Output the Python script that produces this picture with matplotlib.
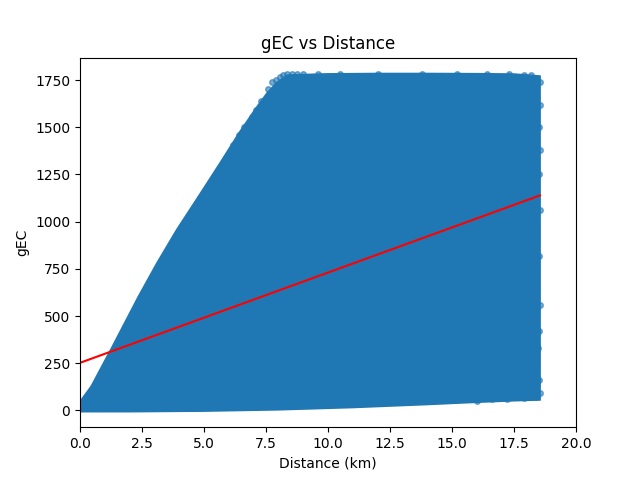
import matplotlib
matplotlib.use("Agg")
import matplotlib.pyplot as plt

# dense part of the cloud: upper and lower edge of the filled region
upper_x = [0.0, 0.5, 1.35, 2.4, 3.15, 3.95, 4.82, 5.68, 6.45, 7.1, 7.6, 8.0, 8.4, 10.0, 12.0, 14.0, 16.0, 17.5, 18.5]
upper_y = [35, 125, 335, 600, 778, 955, 1130, 1305, 1465, 1590, 1680, 1735, 1770, 1776, 1778, 1778, 1777, 1775, 1765]
lower_x = [18.5, 17.5, 16.0, 14.0, 11.0, 8.0, 5.0, 2.0, 0.0]
lower_y = [62, 58, 50, 38, 22, 10, 3, 0, 0]

# loose points along the edges of the cloud
edge_x = [5.38, 5.78, 6.0, 6.18, 6.4, 6.6, 6.92, 7.1, 7.3, 7.6, 7.73, 7.9, 8.06, 8.2,
          8.36, 8.55, 8.73, 9.0, 9.6, 10.5, 12.0, 13.8, 15.2, 16.4, 17.3, 17.9, 18.2,
          18.55, 18.55, 18.5, 18.55, 18.5, 18.55, 18.5, 18.55, 18.5, 18.45,
          18.3, 18.1, 17.7, 17.4, 18.5, 18.55, 18.4, 17.9, 17.2, 16.6, 16.0]
edge_y = [1213, 1298, 1350, 1404, 1460, 1500, 1553, 1590, 1640, 1704, 1742, 1750, 1765, 1778,
          1780, 1782, 1780, 1783, 1781, 1784, 1782, 1783, 1781, 1780, 1782, 1778, 1775,
          1740, 1620, 1500, 1380, 1250, 1060, 820, 560, 420, 330,
          260, 200, 140, 120, 160, 90, 70, 66, 62, 58, 52]

# regression line
fit_x = [0.0, 18.55]
fit_y = [252, 1139]

fig, ax = plt.subplots(figsize=(6.4, 4.8), dpi=100)

cloud_x = upper_x + lower_x
cloud_y = upper_y + lower_y
ax.fill(cloud_x, cloud_y, color="#1f77b4", edgecolor="#1f77b4", linewidth=3)
ax.scatter(edge_x, edge_y, s=16, color="#1f77b4", alpha=0.6)

ax.plot(fit_x, fit_y, color="red", linewidth=1.5)

ax.set_xlim(0, 20)
ax.set_ylim(-89, 1869)
ax.set_title("gEC vs Distance")
ax.set_xlabel("Distance (km)")
ax.set_ylabel("gEC")

fig.savefig("out.png", dpi=100)
